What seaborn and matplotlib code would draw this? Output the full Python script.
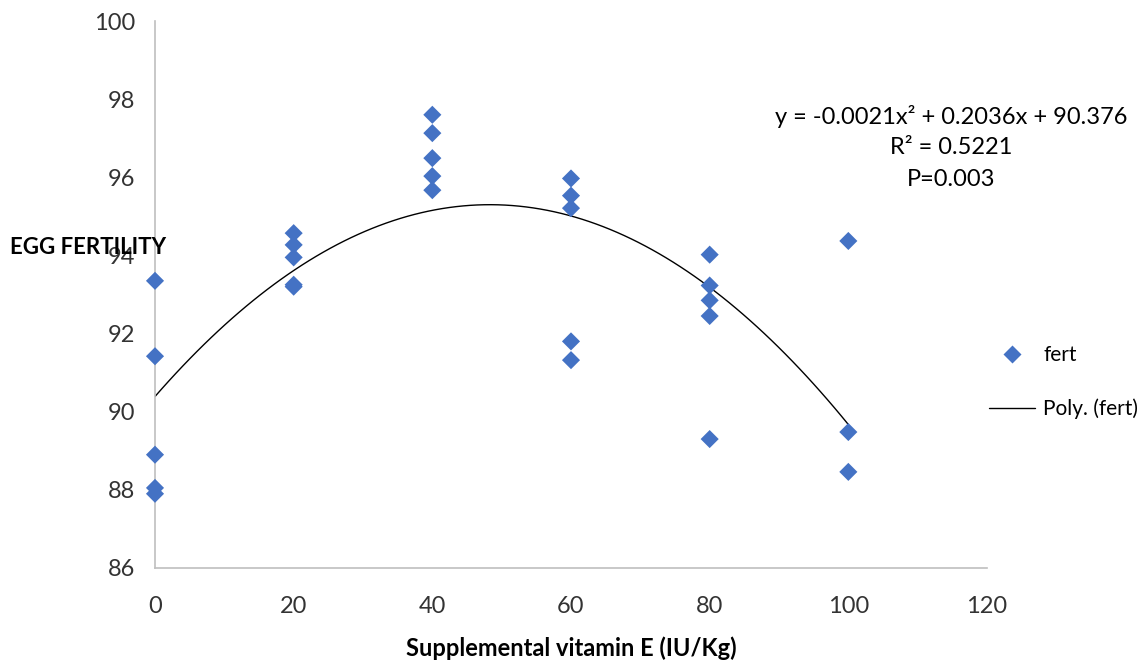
import numpy as np
import pandas as pd
import matplotlib
matplotlib.use("Agg")
import matplotlib.pyplot as plt
import seaborn as sns
from matplotlib.lines import Line2D

# ---- data ----
dose_0 = [93.35, 91.42, 88.90, 88.05, 87.90]
dose_20 = [94.57, 94.27, 93.95, 93.25, 93.20]
dose_40 = [97.60, 97.13, 96.49, 96.03, 95.67]
dose_60 = [95.97, 95.53, 95.21, 91.80, 91.32]
dose_80 = [94.02, 93.23, 92.85, 92.45, 89.30]
dose_100 = [94.37, 89.48, 88.46]
doses = [0, 20, 40, 60, 80, 100]
x_ticks = [0, 20, 40, 60, 80, 100, 120]
y_ticks = [86, 88, 90, 92, 94, 96, 98, 100]
equation_lines = ["y = -0.0021x² + 0.2036x + 90.376", "R² = 0.5221", "P=0.003"]

groups = [dose_0, dose_20, dose_40, dose_60, dose_80, dose_100]
xs, ys = [], []
for d, vals in zip(doses, groups):
    xs += [d] * len(vals)
    ys += vals
df = pd.DataFrame({"vitE": xs, "fert": ys})

sns.set_style("white")
plt.rcParams["font.family"] = ["Lato", "DejaVu Sans"]

fig = plt.figure(figsize=(11.46, 6.64), dpi=100)
ax = fig.add_axes([155 / 1146, 1 - 568 / 664, 832 / 1146, 547 / 664])

blue = "#4472C4"
sns.scatterplot(data=df, x="vitE", y="fert", marker="D", s=85, color=blue,
                edgecolor="none", ax=ax, zorder=3, clip_on=False)
sns.regplot(data=df, x="vitE", y="fert", order=2, scatter=False, ci=None,
            truncate=True, line_kws={"color": "black", "lw": 1.0}, ax=ax)

ax.set_xlim(0, 120)
ax.set_ylim(86, 100)
ax.set_xticks(x_ticks)
ax.set_yticks(y_ticks)
ax.tick_params(axis="both", labelsize=17, colors="#333333", length=8,
               width=1, direction="out")
ax.tick_params(axis="y", pad=6)
ax.tick_params(axis="x", pad=12)
ax.tick_params(axis="both", color="#BFBFBF")
for s in ["top", "right"]:
    ax.spines[s].set_visible(False)
for s in ["left", "bottom"]:
    ax.spines[s].set_color("#BFBFBF")
    ax.spines[s].set_linewidth(1.2)

ax.set_ylabel("")
ax.set_xlabel("Supplemental vitamin E (IU/Kg)", fontsize=17, fontweight="bold",
              labelpad=14, color="black")
fig.text(10 / 1146, 1 - 247 / 664, "EGG FERTILITY", fontsize=16,
         fontweight="bold", ha="left", va="center", color="black")

for i, line in enumerate(equation_lines):
    fig.text(951 / 1146, 1 - (116 + 32 * i) / 664, line, fontsize=17,
             ha="center", va="center", color="black")

handles = [Line2D([0], [0], marker="D", color="none", markerfacecolor=blue,
                  markeredgecolor="none", markersize=9),
           Line2D([0], [0], color="black", lw=1.0)]
fig.legend(handles, ["fert", "Poly. (fert)"], loc="center left",
           bbox_to_anchor=(989 / 1146, 1 - 382 / 664), frameon=False,
           fontsize=15, labelspacing=1.6, handlelength=2.2, handletextpad=0.4,
           borderpad=0, borderaxespad=0, labelcolor="black")

fig.savefig("out.png", dpi=100)
